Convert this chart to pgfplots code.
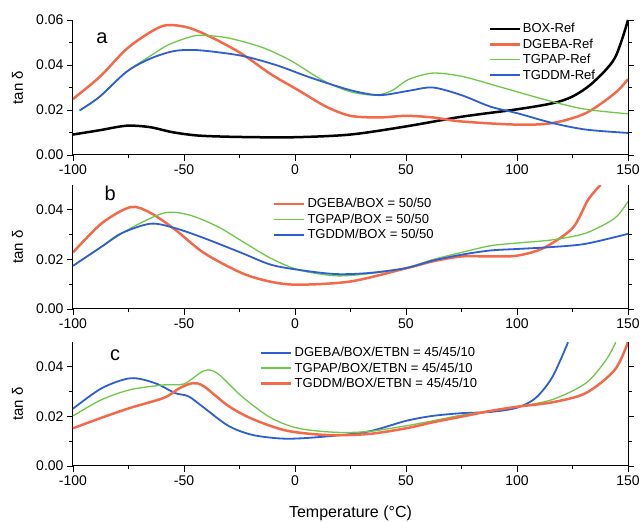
\documentclass[border=0pt]{standalone}
\usepackage{fontspec}
\setmainfont{Liberation Sans}
\usepackage{pgfplots}
\pgfplotsset{compat=1.18}
\definecolor{cred}{RGB}{244,105,74}
\definecolor{cgreen}{RGB}{112,200,72}
\definecolor{cblue}{RGB}{45,95,210}
\pgfplotsset{
 panel/.style={scale only axis, width=555pt, xmin=-100, xmax=150, ymin=0,
  axis x line*=bottom, axis y line*=box,
  xtick={-100,-50,0,50,100,150}, minor x tick num=1, minor y tick num=1,
  tick align=outside, major tick length=6pt, minor tick length=3.5pt,
  tick style={black, line width=0.8pt}, axis line style={line width=1pt},
  ticklabel style={font=\fontsize{14}{16}\selectfont},
  /pgf/number format/assume math mode=true,
  scaled y ticks=false,
  yticklabel style={/pgf/number format/.cd, fixed, fixed zerofill, precision=2},
  ylabel={tan δ},
  ylabel style={at={(axis description cs:-0.1,0.5)}, anchor=center, rotate=0, font=\fontsize{15}{17}\selectfont},
  legend cell align=left,
  legend image code/.code={\draw[##1] (0pt,0pt) -- (30pt,0pt);},
  legend style={draw=none, fill=none, font=\fontsize{13}{15}\selectfont, row sep=0.5pt, inner sep=0pt},
 },
 bk/.style={black, line width=2.5pt, smooth, tension=0.5},
 rd/.style={cred, line width=2.5pt, smooth, tension=0.5},
 gr/.style={cgreen, line width=1.3pt, smooth, tension=0.5},
 bl/.style={cblue, line width=1.8pt, smooth, tension=0.5},
}
\begin{document}
\begin{tikzpicture}
\useasboundingbox (0pt,0pt) rectangle (640pt,522pt);
% ---------- panel a ----------
\begin{axis}[panel, at={(73pt,367pt)}, anchor=south west, height=135pt, ymax=0.06,
  ytick={0,0.02,0.04,0.06},
  legend style={at={(axis description cs:0.748,0.99)}, anchor=north west}]
\addplot[bk] coordinates {(-100,0.0091) (-88,0.011) (-76,0.013) (-65.5,0.0124) (-55,0.0101) (-43,0.0086) (-24,0.008) (0,0.0079) (25,0.0091) (50,0.0127) (75,0.017) (100,0.0203) (116,0.023) (125,0.026) (134,0.032) (144,0.043) (150,0.06)};
\addlegendentry{BOX-Ref}
\addplot[rd] coordinates {(-100,0.0249) (-88,0.0347) (-76,0.047) (-65.5,0.0544) (-58,0.0577) (-48,0.0566) (-37,0.052) (-24,0.045) (-11,0.036) (1.5,0.0288) (14,0.0215) (25,0.0174) (38,0.0167) (50,0.0174) (62,0.0167) (75,0.0149) (100,0.0135) (116,0.0142) (131,0.0186) (144,0.0274) (150,0.0337)};
\addlegendentry{DGEBA-Ref}
\addplot[gr] coordinates {(-97,0.0198) (-88,0.0259) (-76,0.0369) (-66,0.0435) (-57,0.049) (-46,0.0528) (-40,0.0531) (-30,0.052) (-15,0.0479) (-2,0.042) (12.5,0.0332) (25,0.0281) (36.5,0.0266) (44,0.0288) (51,0.0335) (62,0.0364) (75,0.035) (88,0.0315) (100,0.0281) (116,0.0237) (131,0.0203) (150,0.0183)};
\addlegendentry{TGPAP-Ref}
\addplot[bl] coordinates {(-97,0.0198) (-88,0.0259) (-76,0.0369) (-65.5,0.0427) (-55,0.0461) (-46,0.0467) (-35,0.0457) (-22.5,0.0438) (-8,0.0398) (7,0.0344) (25,0.0288) (38,0.0266) (51,0.0285) (62,0.030) (75,0.0266) (88,0.0215) (100,0.0186) (116,0.0142) (131,0.0113) (150,0.0098)};
\addlegendentry{TGDDM-Ref}
\node[font=\fontsize{20}{22}\selectfont] at (axis description cs:0.052,0.867) {a};
\end{axis}
% ---------- panel b ----------
\begin{axis}[panel, at={(73pt,213pt)}, anchor=south west, height=124pt, ymax=0.05,
  ytick={0,0.02,0.04},
  legend style={at={(axis description cs:0.36,0.91)}, anchor=north west}]
\addplot[rd] coordinates {(-100,0.0228) (-87,0.0346) (-74,0.0411) (-65,0.0387) (-54,0.032) (-41,0.0226) (-24,0.0145) (-11,0.011) (1.5,0.0098) (25,0.0111) (50,0.0164) (62,0.0192) (75,0.0212) (88,0.0212) (100,0.0215) (112,0.0246) (125,0.0326) (132,0.044) (137.6,0.050)};
\addlegendentry{DGEBA/BOX = 50/50}
\addplot[gr] coordinates {(-100,0.0174) (-87,0.0252) (-74,0.0326) (-59,0.0387) (-48,0.038) (-35,0.0333) (-22.5,0.0266) (-11,0.0205) (1.5,0.0158) (18,0.0134) (33,0.0142) (50,0.0165) (62,0.0199) (75,0.0228) (88,0.0255) (100,0.0266) (116,0.0279) (131,0.0306) (144,0.0366) (150,0.0434)};
\addlegendentry{TGPAP/BOX = 50/50}
\addplot[bl] coordinates {(-100,0.0174) (-87,0.0252) (-78,0.0306) (-65,0.0344) (-54,0.0326) (-41,0.0286) (-24,0.0226) (-11,0.0179) (1.5,0.0158) (18,0.0141) (33,0.0145) (50,0.0165) (62,0.0195) (75,0.0219) (88,0.0236) (100,0.0242) (116,0.025) (131,0.0263) (150,0.0303)};
\addlegendentry{TGDDM/BOX = 50/50}
\node[font=\fontsize{20}{22}\selectfont] at (axis description cs:0.067,0.935) {b};
\end{axis}
% ---------- panel c ----------
\begin{axis}[panel, at={(73pt,56pt)}, anchor=south west, height=124pt, ymax=0.05,
  ytick={0,0.02,0.04},
  xlabel={Temperature (°C)},
  xlabel style={at={(axis description cs:0.5,-0.379)}, anchor=center, font=\fontsize{16}{18}\selectfont},
  legend style={at={(axis description cs:0.337,0.976)}, anchor=north west}]
\addplot[bl] coordinates {(-100,0.0231) (-87,0.0314) (-74,0.0354) (-63,0.0334) (-54,0.0294) (-48,0.0281) (-41,0.0235) (-30,0.0162) (-19,0.0125) (-4,0.011) (14,0.0119) (33,0.0139) (50,0.0182) (62,0.0202) (75,0.0213) (88,0.0218) (100,0.0235) (108.5,0.0275) (116,0.036) (123,0.0499)};
\addlegendentry{DGEBA/BOX/ETBN = 45/45/10}
\addplot[gr] coordinates {(-100,0.0202) (-87,0.0268) (-74,0.0308) (-59,0.0327) (-50,0.0331) (-41,0.0384) (-35,0.0374) (-24,0.0281) (-11,0.0195) (1.5,0.0152) (18,0.0136) (33,0.0139) (50,0.0162) (62,0.0182) (75,0.0205) (88,0.0222) (100,0.0239) (116,0.0268) (131,0.0334) (140,0.0426) (144.5,0.0499)};
\addlegendentry{TGPAP/BOX/ETBN = 45/45/10}
\addplot[rd] coordinates {(-100,0.0152) (-87,0.0195) (-74,0.0235) (-59,0.0275) (-52,0.0314) (-46,0.0334) (-41,0.0321) (-30,0.0242) (-19,0.0189) (-4,0.0143) (14,0.0125) (33,0.0129) (50,0.0152) (62,0.0176) (75,0.0199) (88,0.0222) (100,0.0239) (116,0.0257) (131,0.0294) (144,0.0387) (150,0.0499)};
\addlegendentry{TGDDM/BOX/ETBN = 45/45/10}
\node[font=\fontsize{20}{22}\selectfont] at (axis description cs:0.076,0.895) {c};
\end{axis}
\end{tikzpicture}
\end{document}
